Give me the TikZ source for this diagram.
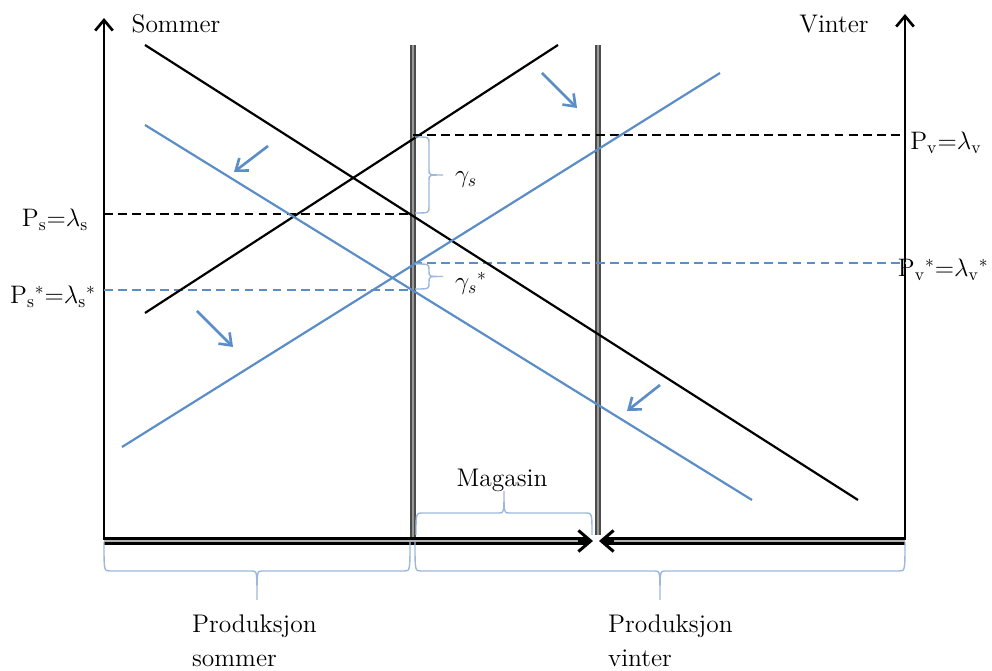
\documentclass[tikz,border=0pt]{standalone}
\usepackage{amsmath}
\usepackage{tikz}
\usetikzlibrary{arrows.meta}
\definecolor{curveBlue}{HTML}{5B8EC6}
\definecolor{braceBlue}{HTML}{9DB8DA}

% Word-style brackets: ends, base, depth (pixel units)
\newcommand{\wbraceH}[4]{%
  \draw[bracket] (#1,#3) .. controls (#1,{#3+#4}) .. ({#1+6},{#3+#4})
    -- ({(#1+#2)/2-5},{#3+#4}) .. controls ({(#1+#2)/2},{#3+#4}) .. ({(#1+#2)/2},{#3+2*#4})
    .. controls ({(#1+#2)/2},{#3+#4}) .. ({(#1+#2)/2+5},{#3+#4})
    -- ({#2-6},{#3+#4}) .. controls (#2,{#3+#4}) .. (#2,#3);}
\newcommand{\wbraceV}[4]{%
  \draw[bracket] (#3,#1) .. controls ({#3+#4},#1) .. ({#3+#4},{#1+6})
    -- ({#3+#4},{(#1+#2)/2-5}) .. controls ({#3+#4},{(#1+#2)/2}) .. ({#3+2*#4},{(#1+#2)/2})
    .. controls ({#3+#4},{(#1+#2)/2}) .. ({#3+#4},{(#1+#2)/2+5})
    -- ({#3+#4},{#2-6}) .. controls ({#3+#4},#2) .. (#3,#2);}

\begin{document}
\begin{tikzpicture}[
    x=0.02cm, y=-0.02cm,
    lbl/.style={font=\fontsize{14.5}{19}\selectfont, inner sep=1pt},
    axisLine/.style={line width=1.5pt, -{Straight Barb[length=6pt,width=10pt]}},
    demand/.style={line width=1.25pt},
    moveArrow/.style={curveBlue, line width=1.5pt, -{Straight Barb[length=6pt,width=9pt]}},
    priceLine/.style={line width=1.2pt, dash pattern=on 5pt off 3pt},
    bracket/.style={braceBlue, line width=0.8pt},
    wall/.style={draw=black!70, double=black!40, double distance=1.6pt, line width=0.8pt},
    floor/.style={draw=black, double=black!30, double distance=1.6pt, line width=1.3pt}
  ]
  \useasboundingbox (0,0) rectangle (992,671);

  % axes
  \coordinate (origS) at (104,540);
  \coordinate (topS)  at (104,18);
  \coordinate (origV) at (905,540);
  \coordinate (topV)  at (905,14);
  \coordinate (tipS)  at (593,541);
  \coordinate (tipV)  at (599,541);
  \draw[axisLine] (origS) -- (topS);
  \draw[axisLine] (origV) -- (topV);

  % storage limits
  \draw[wall] (413,45) -- (413,539);
  \draw[wall] (598,45) -- (598,535);

  % production axis, both ways
  \draw[floor] (104,541) -- (587,541);
  \draw[floor] (905,541) -- (605,541);
  \draw[line width=1.7pt, -{Straight Barb[length=7pt,width=12pt]}] (578,541) -- (tipS);
  \draw[line width=1.7pt, -{Straight Barb[length=7pt,width=12pt]}] (614,541) -- (tipV);

  \node[lbl] (sommer) at (176,24) {Sommer};
  \node[lbl] (vinter) at (834,24) {Vinter};

  % price levels
  \draw[priceLine] (413,135) -- (905,135);
  \draw[priceLine] (104,214) -- (413,214);
  \draw[priceLine, curveBlue] (413,263) -- (905,263);
  \draw[priceLine, curveBlue] (104,290) -- (413,290);

  \node[lbl] (ps)  at (55,220)  {$\mathrm{P}_{\mathrm{s}}{=}\lambda_{\mathrm{s}}$};
  \node[lbl] (pss) at (53,297)  {$\mathrm{P}_{\mathrm{s}}{}^{*}{=}\lambda_{\mathrm{s}}{}^{*}$};
  \node[lbl] (pv)  at (946,143) {$\mathrm{P}_{\mathrm{v}}{=}\lambda_{\mathrm{v}}$};
  \node[lbl, inner sep=0pt, anchor=east] (pvs) at (989,270) {$\mathrm{P}_{\mathrm{v}}{}^{*}{=}\lambda_{\mathrm{v}}{}^{*}$};

  % demand curves
  \draw[demand] (145,45) -- (858,500);
  \draw[demand] (145,313) -- (558,45);
  \draw[demand, curveBlue] (145,125) -- (752,500);
  \draw[demand, curveBlue] (122,447) -- (720,73);

  % shifts
  \draw[moveArrow] (268,146) -- (234,172);
  \draw[moveArrow] (542,73) -- (577,108);
  \draw[moveArrow] (197,311) -- (233,347);
  \draw[moveArrow] (660,385) -- (627,411);

  % braces
  \wbraceV{137}{213}{415}{14}
  \node[lbl] (gs) at (466,180) {$\gamma_s$};
  \wbraceV{264}{289}{415}{14}
  \node[lbl] (gss) at (471,283) {$\gamma_s{}^{*}$};

  \wbraceH{416}{592}{535}{-22}
  \node[lbl] (mag) at (502,480) {Magasin};

  \wbraceH{104}{410}{542}{29}
  \wbraceH{415}{905}{542}{29}
  \node[lbl, anchor=north west, align=left] (prods) at (190,613) {Produksjon\\sommer};
  \node[lbl, anchor=north west, align=left] (prodv) at (606,613) {Produksjon\\vinter};
\end{tikzpicture}
\end{document}
